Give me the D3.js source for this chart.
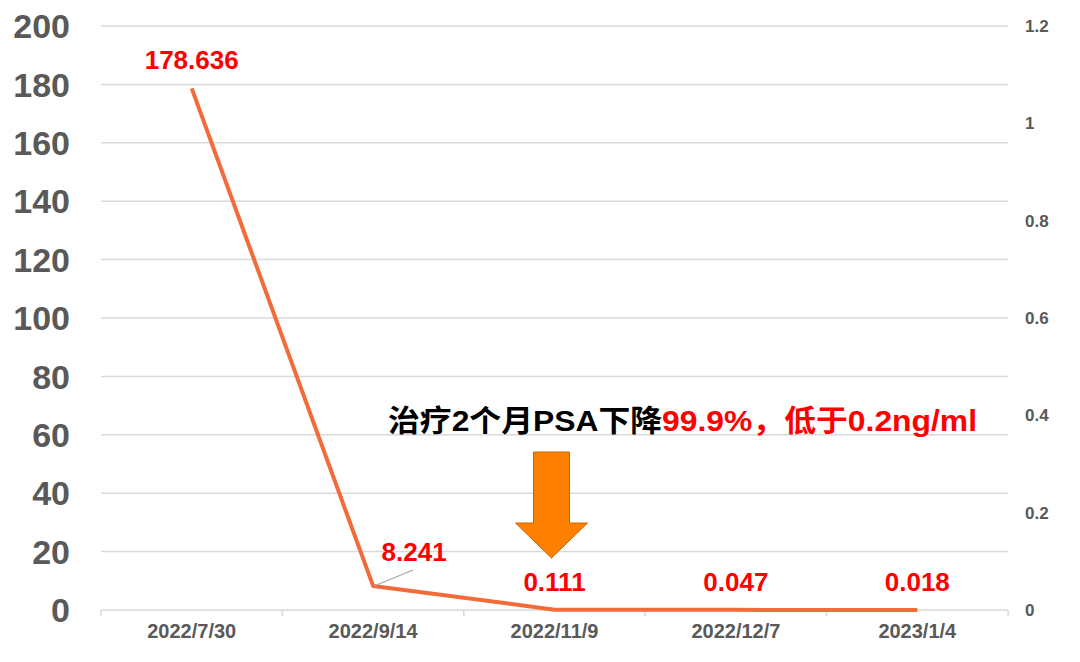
<!DOCTYPE html>
<html><head><meta charset="utf-8">
<script src="https://cdn.jsdelivr.net/npm/d3@7"></script>
<style>body{margin:0;background:#fff}svg{display:block}</style>
</head><body>
<svg id="c" width="1080" height="662"></svg>
<script>
const categories = ["2022/7/30","2022/9/14","2022/11/9","2022/12/7","2023/1/4"];
const psaValues = [178.636, 8.241, 0.111, 0.047, 0.018];
const valueLabels = ["178.636","8.241","0.111","0.047","0.018"];
const leftTicks = [0,20,40,60,80,100,120,140,160,180,200];
const rightTicks = [0,0.2,0.4,0.6,0.8,1,1.2];
const annoBlack = "治疗2个月PSA下降";
const annoRed = "99.9%，低于0.2ng/ml";

const svg = d3.select("#c");
const L = 101, R = 1008, T = 26, B = 610;
const x = d3.scaleBand().domain(categories).range([L, R]);
const y = d3.scaleLinear().domain([0, 200]).range([B, T]);
const y2 = d3.scaleLinear().domain([0, 1.2]).range([B, T]);
const font = "Arial, 'Liberation Sans', 'Noto Sans CJK SC', sans-serif";

// gridlines
svg.append("g").selectAll("line").data(leftTicks).join("line")
  .attr("x1", L).attr("x2", R).attr("y1", d => y(d)).attr("y2", d => y(d))
  .attr("stroke", "#D9D9D9").attr("stroke-width", 1.5);

// left axis labels
svg.append("g").selectAll("text").data(leftTicks).join("text")
  .attr("x", 70).attr("y", d => y(d)).attr("dy", "0.36em")
  .attr("text-anchor", "end").attr("font-family", font).attr("font-weight", "bold")
  .attr("font-size", 34).attr("fill", "#595959").text(d => d);

// right axis labels
svg.append("g").selectAll("text").data(rightTicks).join("text")
  .attr("x", 1025).attr("y", d => y2(d)).attr("dy", "0.36em")
  .attr("text-anchor", "start").attr("font-family", font).attr("font-weight", "bold")
  .attr("font-size", 17).attr("fill", "#595959").text(d => d);

// bottom axis
const xAxis = svg.append("g").attr("transform", `translate(0,${B})`)
  .call(d3.axisBottom(x).tickSize(0).tickPadding(14));
xAxis.select(".domain").remove();
xAxis.selectAll("text").attr("font-family", font).attr("font-weight", "bold")
  .attr("font-size", 20).attr("fill", "#595959");
const bounds = categories.map(c => x(c)).concat([R]);
svg.append("g").selectAll("line").data(bounds).join("line")
  .attr("x1", d => d).attr("x2", d => d).attr("y1", B).attr("y2", B + 6)
  .attr("stroke", "#D9D9D9").attr("stroke-width", 1.5);

// line
const cx = c => x(c) + x.bandwidth() / 2;
const pts = categories.map((c, i) => [cx(c), y(psaValues[i])]);
svg.append("path").datum(pts)
  .attr("d", d3.line())
  .attr("fill", "none").attr("stroke", "#F26B38").attr("stroke-width", 4)
  .attr("stroke-linejoin", "round");

// leader line for 8.241
svg.append("line")
  .attr("x1", pts[1][0] + 1).attr("y1", pts[1][1])
  .attr("x2", pts[1][0] + 40).attr("y2", pts[1][1] - 16)
  .attr("stroke", "#A6A6A6").attr("stroke-width", 1.2);

// value labels
const labelPos = [
  [0, -29],
  [41, -34],
  [0, -28],
  [0, -28],
  [0, -28]
];
svg.append("g").selectAll("text").data(valueLabels).join("text")
  .attr("x", (d, i) => pts[i][0] + labelPos[i][0])
  .attr("y", (d, i) => pts[i][1] + labelPos[i][1])
  .attr("dy", "0.36em").attr("text-anchor", "middle")
  .attr("font-family", font).attr("font-weight", "bold")
  .attr("font-size", 26).attr("fill", "#FF0000").text(d => d);

// annotation
const anno = svg.append("text").attr("x", 388).attr("y", 431)
  .attr("font-family", font).attr("font-weight", "bold")
  .attr("font-size", 30);
anno.append("tspan").attr("fill", "#000").text(annoBlack);
anno.append("tspan").attr("fill", "#FF0000").text(annoRed);
const len = anno.node().getComputedTextLength();
if (Math.abs(len - 589) > 3) anno.attr("textLength", 589).attr("lengthAdjust", "spacingAndGlyphs");

// arrow (pointing at third point)
const ax = cx(categories[2]) - 3;
const arrowPath = [
  [ax - 18, 452], [ax + 18, 452], [ax + 18, 523], [ax + 36, 523],
  [ax, 558], [ax - 36, 523], [ax - 18, 523]
];
svg.append("path").attr("d", d3.line()(arrowPath) + "Z")
  .attr("fill", "#FF8000").attr("stroke", "#C86400").attr("stroke-width", 1);
</script>
</body></html>
